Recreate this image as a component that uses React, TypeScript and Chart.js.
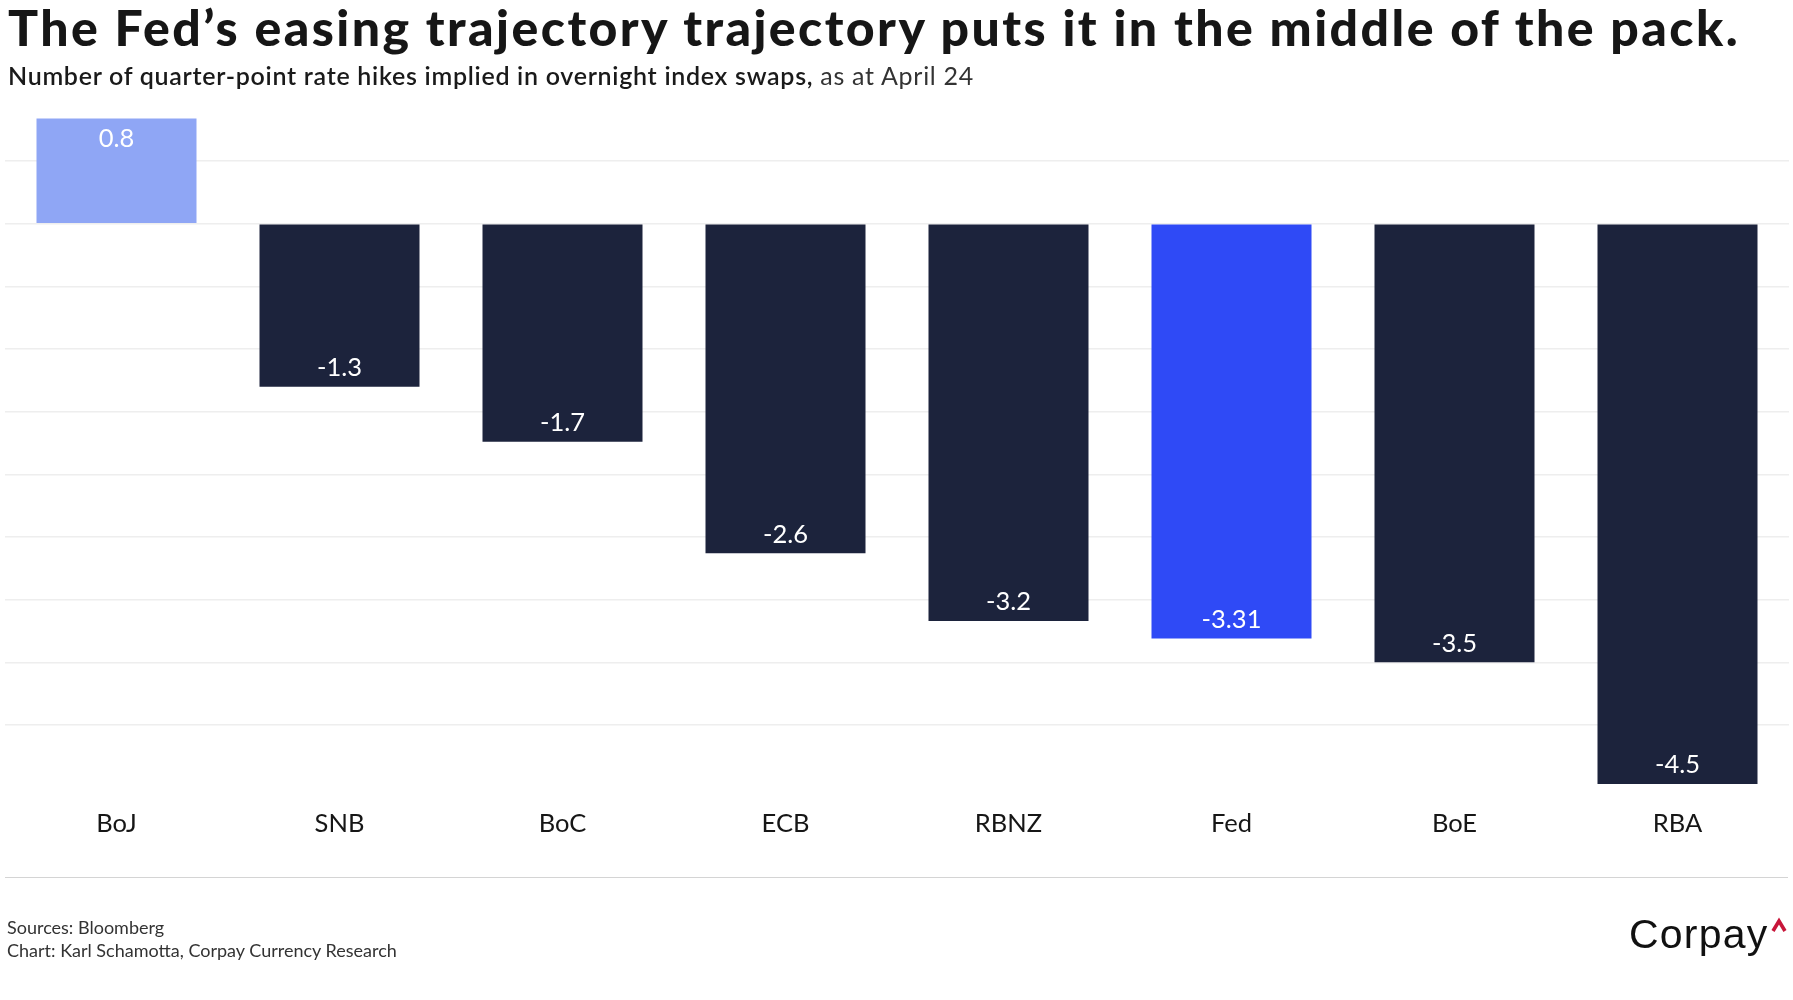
import React, { useEffect, useLayoutEffect, useRef } from "react";
import { Chart, registerables } from "chart.js";

Chart.register(...registerables);

const CATEGORIES = ["BoJ", "SNB", "BoC", "ECB", "RBNZ", "Fed", "BoE", "RBA"];
const VALUES = [0.84, -1.3, -1.74, -2.63, -3.17, -3.31, -3.5, -4.47];
const VALUE_LABELS = ["0.8", "-1.3", "-1.7", "-2.6", "-3.2", "-3.31", "-3.5", "-4.5"];
const BAR_COLORS = ["#8fa6f5", "#1c233c", "#1c233c", "#1c233c", "#1c233c", "#2f4af6", "#1c233c", "#1c233c"];
const GRID_TICKS = [0.5, 0, -0.5, -1, -1.5, -2, -2.5, -3, -3.5, -4];
const Y_MIN = -4.47;
const Y_MAX = 0.9;

const FONT = "Lato, 'Noto Sans', sans-serif";

const valueLabelPlugin = {
  id: "valueLabels",
  afterDatasetsDraw(chart: any) {
    const ctx = chart.ctx;
    const meta = chart.getDatasetMeta(0);
    ctx.save();
    ctx.font = `25.5px ${FONT}`;
    ctx.fillStyle = "#ffffff";
    ctx.textAlign = "center";
    ctx.textBaseline = "alphabetic";
    meta.data.forEach((el: any, i: number) => {
      const { x, y } = el.getProps(["x", "y"], true);
      const ty = VALUES[i] >= 0 ? y + 28.4 : y - 10.7;
      ctx.fillText(VALUE_LABELS[i], x, ty);
    });
    ctx.restore();
  },
};

function FitLine(props: { target: number; style: any; children: any }) {
  const ref = useRef<HTMLDivElement | null>(null);
  useLayoutEffect(() => {
    const el = ref.current;
    if (!el) return;
    el.style.letterSpacing = "0px";
    const w = el.getBoundingClientRect().width;
    const n = (el.textContent || "").length;
    if (n > 1) el.style.letterSpacing = `${(props.target - w) / n}px`;
  }, [props.target]);
  return (
    <div ref={ref} style={{ ...props.style, position: "absolute", whiteSpace: "nowrap", display: "inline-block" }}>
      {props.children}
    </div>
  );
}

function BarChart() {
  const ref = useRef<HTMLCanvasElement | null>(null);
  useEffect(() => {
    if (!ref.current) return;
    const chart = new Chart(ref.current, {
      type: "bar",
      data: {
        labels: CATEGORIES,
        datasets: [
          {
            data: VALUES,
            backgroundColor: BAR_COLORS,
            borderWidth: 0,
            categoryPercentage: 1,
            barPercentage: 0.7175,
          },
        ],
      },
      options: {
        animation: false,
        responsive: true,
        maintainAspectRatio: false,
        layout: { padding: { left: 5, right: 4, top: 111, bottom: 136.5 } },
        plugins: { legend: { display: false }, tooltip: { enabled: false }, title: { display: false } },
        scales: {
          x: {
            grid: { display: false, drawTicks: false, tickLength: 0 },
            border: { display: false },
            ticks: {
              color: "#161616",
              font: { family: FONT, size: 25.5 },
              padding: 24.5,
              autoSkip: false,
              maxRotation: 0,
            },
          },
          y: {
            min: Y_MIN,
            max: Y_MAX,
            afterBuildTicks: (s: any) => {
              s.ticks = GRID_TICKS.map((v) => ({ value: v }));
            },
            grid: { color: "#eeeeee", lineWidth: 1.5, drawTicks: false, tickLength: 0 },
            border: { display: false },
            ticks: { display: false },
          },
        },
      },
      plugins: [valueLabelPlugin],
    });
    return () => chart.destroy();
  }, []);
  return (
    <div style={{ position: "absolute", left: 0, top: 0, width: 1793, height: 1000 }}>
      <canvas ref={ref} />
    </div>
  );
}

export default function App() {
  return (
    <div
      style={{
        position: "absolute",
        left: 0,
        top: 0,
        width: 1793,
        height: 1000,
        background: "#ffffff",
        overflow: "hidden",
        fontFamily: FONT,
      }}
    >
      <BarChart />
      <FitLine
        target={1732}
        style={{
          left: 8,
          top: 2.3,
          fontSize: 50,
          lineHeight: "50px",
          fontWeight: 900,
          color: "#161616",
        }}
      >
        The Fed’s easing trajectory trajectory puts it in the middle of the pack.
      </FitLine>
      <FitLine
        target={966}
        style={{
          left: 8,
          top: 62.5,
          fontSize: 25,
          lineHeight: "25px",
          color: "#1a1a1a",
        }}
      >
        <span style={{ fontWeight: 600 }}>Number of quarter-point rate hikes implied in overnight index swaps,</span>
        <span style={{ fontWeight: 400, color: "#333333" }}> as at April 24</span>
      </FitLine>
      <div
        style={{
          position: "absolute",
          left: 5,
          top: 876.5,
          width: 1783,
          height: 0,
          borderTop: "1.5px solid #d4d4d4",
        }}
      />
      <div
        style={{
          position: "absolute",
          left: 7,
          top: 916,
          fontSize: 18,
          lineHeight: "23px",
          color: "#333333",
          whiteSpace: "nowrap",
        }}
      >
        <div>Sources: Bloomberg</div>
        <div>Chart: Karl Schamotta, Corpay Currency Research</div>
      </div>
      <div
        style={{
          position: "absolute",
          left: 1629,
          top: 913.6,
          fontSize: 41,
          lineHeight: "41px",
          letterSpacing: 1.2,
          fontFamily: "'Liberation Sans', Arial, sans-serif",
          color: "#111111",
          whiteSpace: "nowrap",
        }}
      >
        Corpay
      </div>
      <svg
        style={{ position: "absolute", left: 1768, top: 915 }}
        width={22}
        height={22}
        viewBox="0 0 22 22"
      >
        <polyline points="5,16 11,6 17,16" fill="none" stroke="#c8163a" strokeWidth={3.6} strokeLinejoin="miter" />
      </svg>
    </div>
  );
}
